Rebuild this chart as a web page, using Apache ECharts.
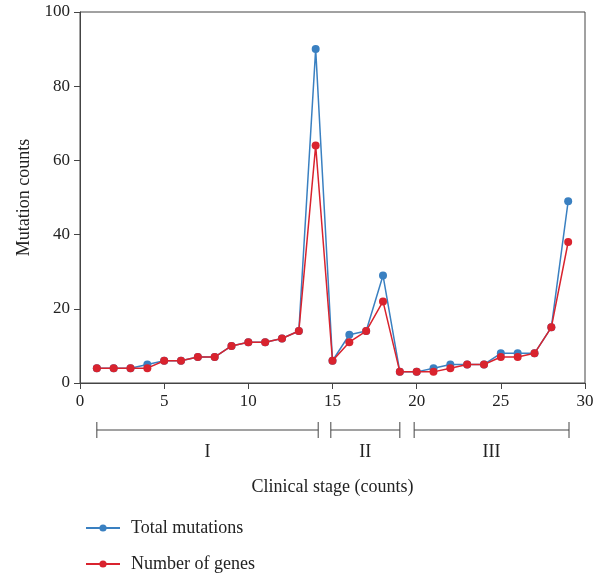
<!DOCTYPE html>
<html>
<head>
<meta charset="utf-8">
<script src="https://cdn.jsdelivr.net/npm/echarts@6/dist/echarts.min.js"></script>
<style>
  html, body { margin: 0; padding: 0; background: #fff; }
  #chart { width: 609px; height: 578px; }
</style>
</head>
<body>
<div id="chart"></div>
<script>
// patient index along clinical stage
const xValues = [1, 2, 3, 4, 5, 6, 7, 8, 9, 10, 11, 12, 13, 14, 15, 16, 17, 18, 19, 20, 21, 22, 23, 24, 25, 26, 27, 28, 29];
const totalMutations = [4, 4, 4, 5, 6, 6, 7, 7, 10, 11, 11, 12, 14, 90, 6, 13, 14, 29, 3, 3, 4, 5, 5, 5, 8, 8, 8, 15, 49];
const numberOfGenes = [4, 4, 4, 4, 6, 6, 7, 7, 10, 11, 11, 12, 14, 64, 6, 11, 14, 22, 3, 3, 3, 4, 5, 5, 7, 7, 8, 15, 38];
// stage brackets: [start, end, label]
const stages = [
  [1, 14.15, 'I'],
  [14.9, 19.0, 'II'],
  [19.85, 29.05, 'III']
];
const seriesNames = ['Total mutations', 'Number of genes'];

const FONT = 'Liberation Serif';
const chart = echarts.init(document.getElementById('chart'));

const zip = (ys) => xValues.map((x, i) => [x, ys[i]]);

const legendBase = {
  left: 80,
  itemWidth: 34,
  itemHeight: 9,
  textStyle: { fontFamily: FONT, fontSize: 18, color: '#222', padding: [0, 0, 0, 6] }
};

const option = {
  backgroundColor: '#fff',
  textStyle: { fontFamily: FONT, color: '#222' },
  grid: {
    left: 80, right: 24, top: 12, bottom: 195,
    show: true, borderColor: '#444', borderWidth: 1
  },
  legend: [
    Object.assign({ top: 514, data: [seriesNames[0]] }, legendBase),
    Object.assign({ top: 550, data: [seriesNames[1]] }, legendBase)
  ],
  xAxis: {
    type: 'value',
    min: 0, max: 30, interval: 5,
    name: 'Clinical stage (counts)',
    nameLocation: 'middle',
    nameGap: 95,
    nameTextStyle: { fontFamily: FONT, fontSize: 18, color: '#222' },
    axisLine: { lineStyle: { color: '#444', width: 1 } },
    axisTick: { show: true, length: 6, lineStyle: { color: '#444' } },
    axisLabel: { fontFamily: FONT, fontSize: 17, color: '#222', margin: 10 },
    splitLine: { show: false }
  },
  yAxis: {
    type: 'value',
    min: 0, max: 100, interval: 20,
    name: 'Mutation counts',
    nameLocation: 'middle',
    nameGap: 46,
    nameTextStyle: { fontFamily: FONT, fontSize: 18, color: '#222' },
    axisLine: { show: true, lineStyle: { color: '#444', width: 1 } },
    axisTick: { show: true, length: 6, lineStyle: { color: '#444' } },
    axisLabel: { fontFamily: FONT, fontSize: 17, color: '#222', margin: 10 },
    splitLine: { show: false }
  },
  series: [
    {
      name: seriesNames[0],
      type: 'line',
      data: zip(totalMutations),
      symbol: 'circle',
      symbolSize: 8,
      color: '#3a80c1',
      lineStyle: { width: 1.5 },
      z: 2
    },
    {
      name: seriesNames[1],
      type: 'line',
      data: zip(numberOfGenes),
      symbol: 'circle',
      symbolSize: 8,
      color: '#d9232e',
      lineStyle: { width: 1.5 },
      z: 3
    },
    {
      type: 'custom',
      clip: false,
      silent: true,
      data: stages,
      encode: { x: [0, 1] },
      renderItem: function (params, api) {
        const a = api.coord([api.value(0), 0]);
        const b = api.coord([api.value(1), 0]);
        const y = a[1] + 47;
        const style = { stroke: '#444', lineWidth: 1 };
        return {
          type: 'group',
          children: [
            { type: 'line', shape: { x1: a[0], y1: y, x2: b[0], y2: y }, style: style },
            { type: 'line', shape: { x1: a[0], y1: y - 8, x2: a[0], y2: y + 8 }, style: style },
            { type: 'line', shape: { x1: b[0], y1: y - 8, x2: b[0], y2: y + 8 }, style: style },
            {
              type: 'text',
              style: {
                x: (a[0] + b[0]) / 2, y: y + 22,
                text: stages[params.dataIndex][2],
                fill: '#222', font: '18px "' + FONT + '"',
                align: 'center', verticalAlign: 'middle'
              }
            }
          ]
        };
      }
    }
  ]
};

chart.setOption(option);
</script>
</body>
</html>
